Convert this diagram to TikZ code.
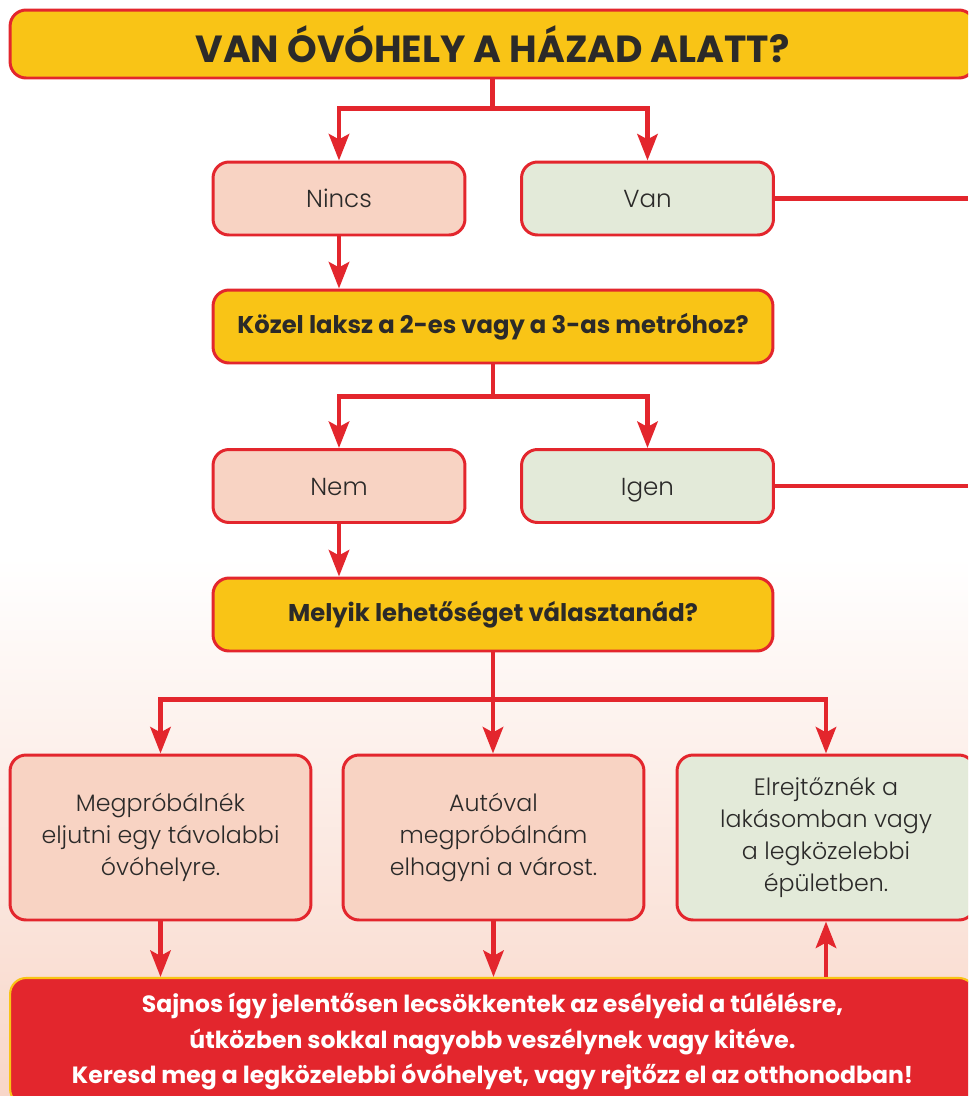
\documentclass[tikz,border=0pt]{standalone}
\usepackage{fontspec}
\setmainfont{Poppins}
\newfontfamily\lightfont{Poppins Light}
\usetikzlibrary{arrows.meta}
\usetikzlibrary{positioning}

\definecolor{linered}{RGB}{227,38,45}
\definecolor{qyellow}{RGB}{249,196,22}
\definecolor{nopink}{RGB}{248,211,195}
\definecolor{yesgreen}{RGB}{227,234,217}
\definecolor{bgpink}{RGB}{248,214,200}
\definecolor{textdark}{RGB}{43,42,41}

\tikzset{
  box/.style={draw=linered, line width=1.7pt, rounded corners=0.32cm,
    align=center, text=textdark, inner sep=0pt},
  answer/.style={box, minimum width=5.04cm, minimum height=1.46cm,
    text height=12.5pt, text depth=2pt, font=\lightfont\fontsize{14}{18}\selectfont},
  question/.style={box, fill=qyellow, minimum width=11.2cm, minimum height=1.46cm,
    font=\bfseries\fontsize{13.8}{16}\selectfont},
  option/.style={box, minimum width=6.02cm, minimum height=3.3cm,
    font=\lightfont\fontsize{13.5}{18.2}\selectfont},
  flow/.style={draw=linered, line width=2.8pt},
  flowarrow/.style={flow, -{Stealth[length=15pt,width=11.5pt,inset=3pt]}},
}

\begin{document}
\begin{tikzpicture}[x=0.02cm, y=-0.02cm]
  \useasboundingbox (0,0) rectangle (968,1096);
  \clip (0,0) rectangle (968,1096);

  % background
  \fill[white] (0,0) rectangle (968,557);
  \shade[top color=white, bottom color=bgpink] (0,557) rectangle (968,1096);
  \coordinate (rim) at (968,0);

  % title
  \node[box, fill=qyellow, minimum width=19.3cm, minimum height=1.36cm,
    font=\bfseries\fontsize{21.5}{24}\selectfont] (title) at (492.5,44)
    {VAN ÓVÓHELY A HÁZAD ALATT?};

  \node[answer, fill=nopink] (nincs) at (339,198.5) {Nincs};
  \node[answer, fill=yesgreen] (van) at (647.5,198.5) {Van};

  \node[question] (metro) at (493,326.5) {Közel laksz a 2-es vagy a 3-as metróhoz?};

  \node[answer, fill=nopink] (nem) at (339,486) {Nem};
  \node[answer, fill=yesgreen] (igen) at (647.5,486) {Igen};

  \node[question] (choice) at (493,614.5) {Melyik lehetőséget választanád?};

  \node[option, fill=nopink] (far) at (160.5,837.5)
    {Megpróbálnék\\eljutni egy távolabbi\\óvóhelyre.};
  \node[option, fill=nopink] (car) at (493.5,837.5)
    {Autóval\\megpróbálnám\\elhagyni a várost.};
  \node[option, fill=yesgreen, minimum width=5.96cm] (hide) at (826,837.5)
    {Elrejtőznék a\\lakásomban vagy\\a legközelebbi\\épületben.};

  \node[box, draw=qyellow, line width=1.2pt, fill=linered, text=white,
    minimum width=19.3cm, minimum height=2.54cm,
    font=\bfseries\fontsize{13.4}{20.2}\selectfont] (warn) at (492.5,1041.5)
    {Sajnos így jelentősen lecsökkentek az esélyeid a túlélésre,\\
     útközben sokkal nagyobb veszélynek vagy kitéve.\\
     Keresd meg a legközelebbi óvóhelyet, vagy rejtőzz el az otthonodban!};

  % connectors
  \draw[flow] (title.south) -- ++(0,29) coordinate (split1);
  \draw[flowarrow] (split1) -| (nincs.north);
  \draw[flowarrow] (split1) -| (van.north);
  \draw[flow] (van.east) -- (van.east -| rim);
  \draw[flowarrow] (nincs.south) -- (nincs.south |- metro.north);

  \draw[flow] (metro.south) -- ++(0,32) coordinate (split2);
  \draw[flowarrow] (split2) -| (nem.north);
  \draw[flowarrow] (split2) -| (igen.north);
  \draw[flow] (igen.east) -- (igen.east -| rim);
  \draw[flowarrow] (nem.south) -- (nem.south |- choice.north);

  \draw[flow] (choice.south) -- ++(0,47) coordinate (split3);
  \draw[flowarrow] (split3) -| (far.north);
  \draw[flowarrow] (split3) -- (split3 |- car.north);
  \draw[flowarrow] (split3) -| (hide.north);

  \draw[flowarrow] (far.south) -- (far.south |- warn.north);
  \draw[flowarrow] (car.south) -- (car.south |- warn.north);
  \draw[flowarrow] (hide.south |- warn.north) -- (hide.south);
\end{tikzpicture}
\end{document}
